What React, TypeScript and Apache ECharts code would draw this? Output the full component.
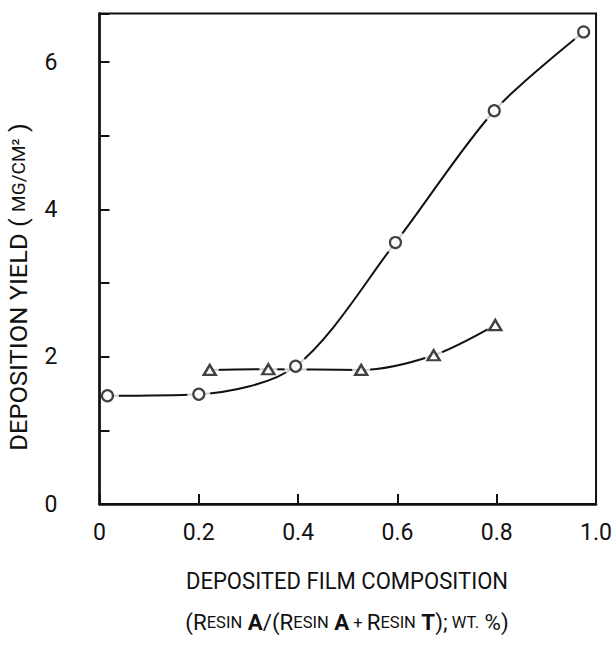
import React, { useEffect, useRef } from "react";
import * as echarts from "echarts";

// Circles series: deposition yield vs composition
const circleX = [0.016, 0.2, 0.395, 0.596, 0.795, 0.975];
const circleY = [1.47, 1.49, 1.87, 3.55, 5.34, 6.41];
// Triangles series
const triangleX = [0.222, 0.34, 0.527, 0.673, 0.797];
const triangleY = [1.82, 1.83, 1.82, 2.02, 2.43];

const xTickLabels = ["0", "0.2", "0.4", "0.6", "0.8", "1.0"];
const yTickLabels = ["0", "", "2", "", "4", "", "6"];

const FONT = "Roboto, 'Liberation Sans', sans-serif";
const INK = "#111";

export default function App() {
  const ref = useRef<HTMLDivElement>(null);
  useEffect(() => {
    if (!ref.current) return;
    const chart = echarts.init(ref.current, undefined, { renderer: "svg" });
    const circles = circleX.map((x, i) => [x, circleY[i]]);
    const triangles = triangleX.map((x, i) => [x, triangleY[i]]);
    chart.setOption({
      animation: false,
      backgroundColor: "#fff",
      grid: {
        left: 99.5,
        right: 17,
        top: 13.5,
        bottom: 150,
        show: true,
        borderColor: INK,
        borderWidth: 2,
        backgroundColor: "transparent",
        z: 10,
      },
      xAxis: {
        type: "value",
        min: 0,
        max: 1,
        interval: 0.2,
        z: 10,
        axisLine: { show: true, onZero: false, lineStyle: { color: INK, width: 2.5 } },
        axisTick: { show: true, inside: true, length: 10, lineStyle: { color: INK, width: 2 } },
        splitLine: { show: false },
        axisLabel: {
          margin: 17,
          fontFamily: FONT,
          fontSize: 23,
          color: INK,
          formatter: (v: number) => {
            const idx = Math.round(v / 0.2);
            return xTickLabels[idx] ?? "";
          },
        },
      },
      yAxis: {
        type: "value",
        min: 0,
        max: 6.66,
        interval: 1,
        z: 10,
        axisLine: { show: true, onZero: false, lineStyle: { color: INK, width: 2.5 } },
        axisTick: { show: true, inside: true, length: 10, lineStyle: { color: INK, width: 2 } },
        splitLine: { show: false },
        axisLabel: {
          margin: 42,
          fontFamily: FONT,
          fontSize: 23,
          color: INK,
          formatter: (v: number) => {
            if (Math.abs(v - Math.round(v)) > 1e-6) return "";
            return yTickLabels[Math.round(v)] ?? "";
          },
        },
      },
      graphic: [
        {
          type: "text",
          x: 19,
          y: 287,
          rotation: Math.PI / 2,
          scaleX: 1.06,
          style: {
            text: "{a|DEPOSITION YIELD ( }{b|MG/CM²}{a| )}",
            align: "center",
            verticalAlign: "middle",
            fill: INK,
            rich: {
              a: { fontFamily: FONT, fontSize: 24, fill: INK },
              b: { fontFamily: FONT, fontSize: 18, fill: INK },
            },
          },
        },
        {
          type: "text",
          x: 347,
          y: 581,
          scaleX: 0.92,
          style: {
            text: "DEPOSITED FILM COMPOSITION",
            align: "center",
            verticalAlign: "middle",
            fill: INK,
            font: `24px ${FONT}`,
          },
        },
        {
          type: "text",
          x: 347,
          y: 622,
          scaleX: 0.97,
          style: {
            text:
              "{a|(R}{s|ESIN}{b| A}{a|/(R}{s|ESIN}{b| A}{s| + }{a|R}{s|ESIN}{b| T}{a|);}{s| WT.}{a| %)}",
            align: "center",
            verticalAlign: "middle",
            fill: INK,
            rich: {
              a: { fontFamily: FONT, fontSize: 23, fill: INK },
              s: { fontFamily: FONT, fontSize: 17, fill: INK },
              b: { fontFamily: FONT, fontSize: 23, fontWeight: "bold", fill: INK },
            },
          },
        },
      ],
      series: [
        {
          type: "line",
          data: circles,
          smooth: 0.3,
          showSymbol: false,
          lineStyle: { color: INK, width: 2 },
          z: 2,
        },
        {
          type: "line",
          data: triangles,
          smooth: 0.3,
          showSymbol: false,
          lineStyle: { color: INK, width: 2 },
          z: 2,
        },
        {
          type: "scatter",
          data: circles,
          symbol: "circle",
          symbolSize: 23,
          itemStyle: { color: "#fff" },
          z: 3,
          silent: true,
        },
        {
          type: "scatter",
          data: triangles,
          symbol: "circle",
          symbolSize: 18,
          itemStyle: { color: "#fff" },
          z: 3,
          silent: true,
        },
        {
          type: "scatter",
          data: circles,
          symbol: "circle",
          symbolSize: 11,
          itemStyle: { color: "#fff", borderColor: INK, borderWidth: 2.2 },
          z: 4,
        },
        {
          type: "scatter",
          data: triangles,
          symbol: "triangle",
          symbolSize: [12, 10],
          itemStyle: { color: "#fff", borderColor: INK, borderWidth: 2.4 },
          z: 4,
        },
      ],
    });
    return () => chart.dispose();
  }, []);
  return (
    <div
      ref={ref}
      style={{ position: "fixed", left: 0, top: 0, width: 615, height: 654, background: "#fff" }}
    />
  );
}
